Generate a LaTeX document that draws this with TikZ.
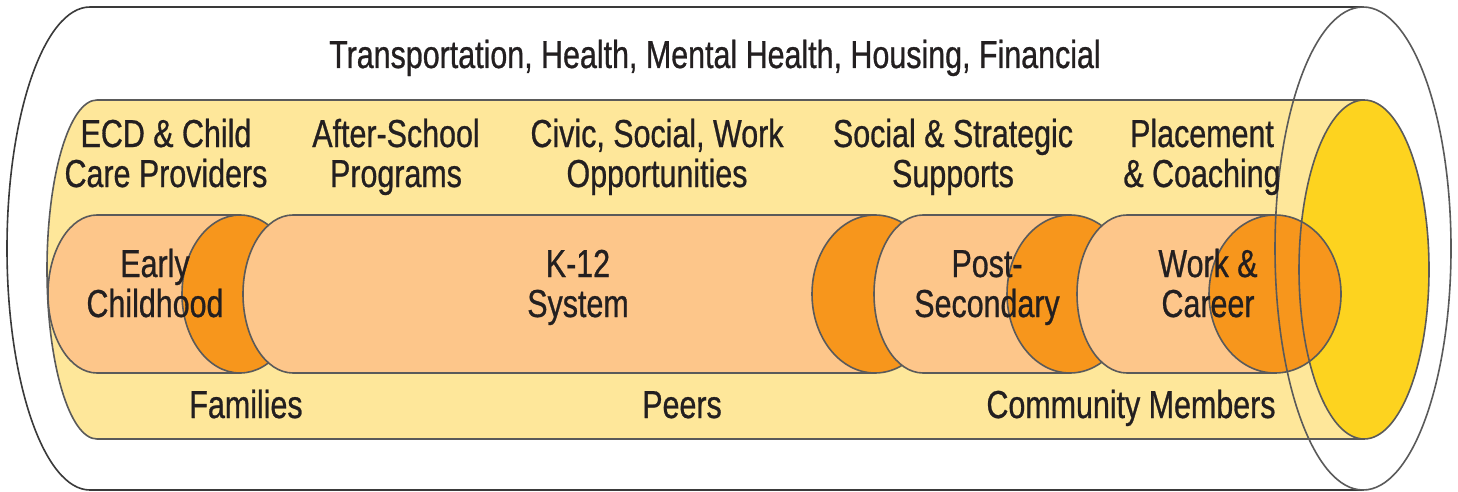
\documentclass[tikz,border=0pt]{standalone}
\usepackage{fontspec}
\setmainfont{Liberation Sans}[FakeStretch=0.78, FakeBold=0.7]
\definecolor{ink}{HTML}{231F20}
\definecolor{edge}{HTML}{5A5A5A}
\definecolor{outerline}{HTML}{3A3A3A}
\definecolor{lightyellow}{HTML}{FEE79A}
\definecolor{brightyellow}{HTML}{FDD31F}
\definecolor{lightorange}{HTML}{FDC68A}
\definecolor{darkorange}{HTML}{F7961C}
\newcommand\segment[4]{%
  \fill[lightorange] (#3,215) -- (#1,215) arc[start angle=90,end angle=270,x radius=#2pt,y radius=79pt] -- (#3,373) -- cycle;
  \draw[edgeline] (#3,215) -- (#1,215) arc[start angle=90,end angle=270,x radius=#2pt,y radius=79pt] -- (#3,373);
  \draw[segface] (#3,294) ellipse[x radius=#4pt, y radius=79pt];
}
\tikzset{
  lbl/.style={font=\fontsize{39}{40}\selectfont, text=ink, align=center, anchor=base, inner sep=0pt},
  edgeline/.style={draw=edge, line width=1.6pt},
  segface/.style={fill=darkorange, draw=edge, line width=1.6pt},
  outerstroke/.style={draw=outerline, line width=1.6pt},
}
\begin{document}
\begin{tikzpicture}[x=1pt,y=-1pt]
\useasboundingbox (0,0) rectangle (1458,492);
\fill[white] (0,0) rectangle (1458,492);
% outer cylinder
\draw[outerstroke] (1363,7) -- (90,7) arc[start angle=90,end angle=270,x radius=83pt,y radius=241.5pt] -- (1363,490);
% yellow cylinder
\fill[lightyellow] (1364,100) -- (97,100) arc[start angle=90,end angle=270,x radius=50pt,y radius=169.5pt] -- (1364,439) -- cycle;
\draw[edgeline] (1364,100) -- (97,100) arc[start angle=90,end angle=270,x radius=50pt,y radius=169.5pt] -- (1364,439);
\fill[brightyellow] (1364,269.5) ellipse[x radius=65pt, y radius=169.5pt];
% segments
\segment{97}{49}{240}{58}
\segment{293}{50}{875}{63}
\segment{923}{49}{1070}{63}
\segment{1127}{50}{1275}{66}
% outlines on top
\draw[edgeline] (1364,269.5) ellipse[x radius=65pt, y radius=169.5pt];
\draw[outerstroke, draw=edge] (1363,248.5) ellipse[x radius=88pt, y radius=241.5pt];
% labels
\node[lbl] (top) at (715,68) {Transportation, Health, Mental Health, Housing, Financial};
\node[lbl] (ecd) at (166,187) {ECD \& Child\\Care Providers};
\node[lbl] (after) at (396,187) {After-School\\Programs};
\node[lbl] (civic) at (657,187) {Civic, Social, Work\\Opportunities};
\node[lbl] (social) at (953,187) {Social \& Strategic\\Supports};
\node[lbl] (place) at (1202,187) {Placement\\\& Coaching};
\node[lbl] (early) at (155,317) {Early\\Childhood};
\node[lbl] (k12) at (578,317) {K-12\\System};
\node[lbl] (post) at (987,317) {Post-\\Secondary};
\node[lbl] (work) at (1208,317) {Work \&\\Career};
\node[lbl] (fam) at (246,418) {Families};
\node[lbl] (peers) at (682,418) {Peers};
\node[lbl] (comm) at (1131,418) {Community Members};
\end{tikzpicture}
\end{document}
